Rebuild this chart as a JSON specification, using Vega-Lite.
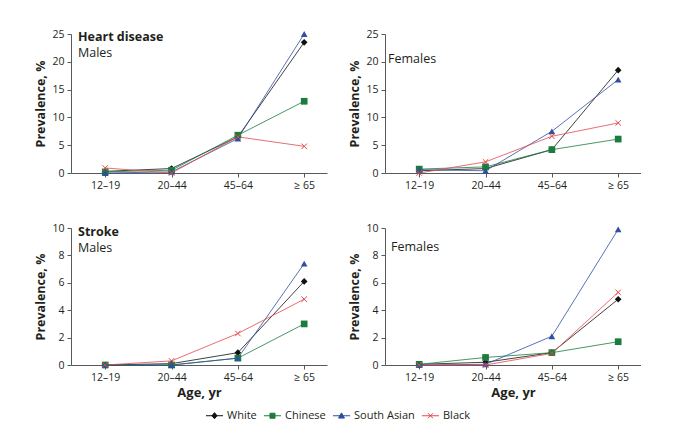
{
  "$schema": "https://vega.github.io/schema/vega-lite/v6.json",
  "padding": {"left": 34, "top": 29, "right": 0, "bottom": 0},
  "background": "white",
  "datasets": {
    "d": [
      {"panel": "HDM", "age": "12–19", "race": "White", "value": 0.3},
      {"panel": "HDM", "age": "20–44", "race": "White", "value": 0.8},
      {"panel": "HDM", "age": "45–64", "race": "White", "value": 6.5},
      {"panel": "HDM", "age": "≥ 65", "race": "White", "value": 23.5},
      {"panel": "HDM", "age": "12–19", "race": "Chinese", "value": 0.2},
      {"panel": "HDM", "age": "20–44", "race": "Chinese", "value": 0.5},
      {"panel": "HDM", "age": "45–64", "race": "Chinese", "value": 6.8},
      {"panel": "HDM", "age": "≥ 65", "race": "Chinese", "value": 12.9},
      {"panel": "HDM", "age": "12–19", "race": "South Asian", "value": 0.0},
      {"panel": "HDM", "age": "20–44", "race": "South Asian", "value": 0.2},
      {"panel": "HDM", "age": "45–64", "race": "South Asian", "value": 6.2},
      {"panel": "HDM", "age": "≥ 65", "race": "South Asian", "value": 25.0},
      {"panel": "HDM", "age": "12–19", "race": "Black", "value": 0.9},
      {"panel": "HDM", "age": "20–44", "race": "Black", "value": 0.0},
      {"panel": "HDM", "age": "45–64", "race": "Black", "value": 6.5},
      {"panel": "HDM", "age": "≥ 65", "race": "Black", "value": 4.8},

      {"panel": "HDF", "age": "12–19", "race": "White", "value": 0.4},
      {"panel": "HDF", "age": "20–44", "race": "White", "value": 0.8},
      {"panel": "HDF", "age": "45–64", "race": "White", "value": 4.2},
      {"panel": "HDF", "age": "≥ 65", "race": "White", "value": 18.5},
      {"panel": "HDF", "age": "12–19", "race": "Chinese", "value": 0.7},
      {"panel": "HDF", "age": "20–44", "race": "Chinese", "value": 1.1},
      {"panel": "HDF", "age": "45–64", "race": "Chinese", "value": 4.2},
      {"panel": "HDF", "age": "≥ 65", "race": "Chinese", "value": 6.1},
      {"panel": "HDF", "age": "12–19", "race": "South Asian", "value": 0.6},
      {"panel": "HDF", "age": "20–44", "race": "South Asian", "value": 0.4},
      {"panel": "HDF", "age": "45–64", "race": "South Asian", "value": 7.5},
      {"panel": "HDF", "age": "≥ 65", "race": "South Asian", "value": 16.8},
      {"panel": "HDF", "age": "12–19", "race": "Black", "value": 0.0},
      {"panel": "HDF", "age": "20–44", "race": "Black", "value": 2.0},
      {"panel": "HDF", "age": "45–64", "race": "Black", "value": 6.6},
      {"panel": "HDF", "age": "≥ 65", "race": "Black", "value": 9.0},

      {"panel": "SM", "age": "12–19", "race": "White", "value": 0.0},
      {"panel": "SM", "age": "20–44", "race": "White", "value": 0.1},
      {"panel": "SM", "age": "45–64", "race": "White", "value": 0.9},
      {"panel": "SM", "age": "≥ 65", "race": "White", "value": 6.1},
      {"panel": "SM", "age": "12–19", "race": "Chinese", "value": 0.0},
      {"panel": "SM", "age": "20–44", "race": "Chinese", "value": 0.0},
      {"panel": "SM", "age": "45–64", "race": "Chinese", "value": 0.5},
      {"panel": "SM", "age": "≥ 65", "race": "Chinese", "value": 3.0},
      {"panel": "SM", "age": "12–19", "race": "South Asian", "value": 0.0},
      {"panel": "SM", "age": "20–44", "race": "South Asian", "value": 0.0},
      {"panel": "SM", "age": "45–64", "race": "South Asian", "value": 0.5},
      {"panel": "SM", "age": "≥ 65", "race": "South Asian", "value": 7.4},
      {"panel": "SM", "age": "12–19", "race": "Black", "value": 0.0},
      {"panel": "SM", "age": "20–44", "race": "Black", "value": 0.3},
      {"panel": "SM", "age": "45–64", "race": "Black", "value": 2.3},
      {"panel": "SM", "age": "≥ 65", "race": "Black", "value": 4.8},

      {"panel": "SF", "age": "12–19", "race": "White", "value": 0.05},
      {"panel": "SF", "age": "20–44", "race": "White", "value": 0.2},
      {"panel": "SF", "age": "45–64", "race": "White", "value": 0.9},
      {"panel": "SF", "age": "≥ 65", "race": "White", "value": 4.8},
      {"panel": "SF", "age": "12–19", "race": "Chinese", "value": 0.05},
      {"panel": "SF", "age": "20–44", "race": "Chinese", "value": 0.55},
      {"panel": "SF", "age": "45–64", "race": "Chinese", "value": 0.9},
      {"panel": "SF", "age": "≥ 65", "race": "Chinese", "value": 1.7},
      {"panel": "SF", "age": "12–19", "race": "South Asian", "value": 0.0},
      {"panel": "SF", "age": "20–44", "race": "South Asian", "value": 0.05},
      {"panel": "SF", "age": "45–64", "race": "South Asian", "value": 2.1},
      {"panel": "SF", "age": "≥ 65", "race": "South Asian", "value": 9.9},
      {"panel": "SF", "age": "12–19", "race": "Black", "value": 0.0},
      {"panel": "SF", "age": "20–44", "race": "Black", "value": 0.0},
      {"panel": "SF", "age": "45–64", "race": "Black", "value": 0.85},
      {"panel": "SF", "age": "≥ 65", "race": "Black", "value": 5.3}
    ]
  },
  "data": {"name": "d"},
  "config": {
    "font": "Open Sans",
    "view": {"stroke": null},
    "axis": {
      "grid": false,
      "domainColor": "#58595b",
      "tickColor": "#58595b",
      "domainWidth": 1,
      "tickWidth": 1,
      "tickSize": 4,
      "labelFont": "Open Sans",
      "labelFontSize": 10.5,
      "labelColor": "#231f20",
      "labelPadding": 3,
      "titleFont": "Open Sans",
      "titleFontSize": 12.5,
      "titleFontWeight": "bold",
      "titleColor": "#231f20"
    },
    "title": {
      "anchor": "start",
      "frame": "group",
      "font": "Open Sans",
      "subtitleFont": "Open Sans",
      "fontSize": 12.5,
      "subtitleFontSize": 12.5,
      "color": "#231f20",
      "subtitleColor": "#231f20",
      "subtitlePadding": 3
    },
    "legend": {
      "labelFont": "Open Sans",
      "labelFontSize": 11,
      "labelColor": "#231f20",
      "layout": {"bottom": {"anchor": "middle"}}
    }
  },
  "spacing": 32,
  "vconcat": [
    {
      "spacing": 21,
      "hconcat": [
        {
          "width": 256,
          "height": 139,
          "title": {"text": "Heart disease", "subtitle": "Males", "fontWeight": "bold", "offset": -30, "dx": 7},
          "transform": [{"filter": "datum.panel === 'HDM'"}],
          "encoding": {
            "x": {"field": "age", "type": "ordinal", "sort": ["12–19", "20–44", "45–64", "≥ 65"], "scale": {"type": "point", "padding": 0.43, "align": 0.6}, "axis": {"title": null, "labelAngle": 0}},
            "y": {"field": "value", "type": "quantitative", "scale": {"domain": [0, 25]}, "axis": {"values": [0, 5, 10, 15, 20, 25], "title": "Prevalence, %"}}
          },
          "layer": [
            {"mark": {"type": "line", "strokeWidth": 0.8},
              "encoding": {"color": {"field": "race", "type": "nominal", "scale": {"domain": ["White", "Chinese", "South Asian", "Black"], "range": ["#111111", "#1b7c3d", "#2f4f9f", "#e5474d"]},
                "legend": {"title": null, "orient": "bottom", "offset": 6, "direction": "horizontal", "symbolSize": 324, "symbolStrokeWidth": 1, "labelOffset": 3, "columnPadding": 4,
                  "encode": {"symbols": {"update": {
                    "shape": {"signal": "datum.value === 'White' ? 'M-0.95,0H0.95M0,-0.34L0.28,0L0,0.34L-0.28,0Z' : datum.value === 'Chinese' ? 'M-0.95,0H0.95M-0.28,-0.28H0.28V0.28H-0.28Z' : datum.value === 'South Asian' ? 'M-0.95,0H0.95M0,-0.32L0.33,0.26H-0.33Z' : 'M-0.95,0H0.95M-0.28,-0.28L0.28,0.28M0.28,-0.28L-0.28,0.28'"},
                    "fill": {"signal": "datum.value === 'White' ? '#111111' : datum.value === 'Chinese' ? '#1b7c3d' : datum.value === 'South Asian' ? '#2f4f9f' : '#e5474d'"},
                    "stroke": {"signal": "datum.value === 'White' ? '#111111' : datum.value === 'Chinese' ? '#1b7c3d' : datum.value === 'South Asian' ? '#2f4f9f' : '#e5474d'"},
                    "opacity": {"value": 1}, "fillOpacity": {"value": 1}, "strokeOpacity": {"value": 1}
                  }}}}}}},
            {"transform": [{"filter": "datum.race === 'White'"}], "mark": {"type": "point", "shape": "diamond", "filled": true, "size": 45, "color": "#111111", "opacity": 1}},
            {"transform": [{"filter": "datum.race === 'Chinese'"}], "mark": {"type": "point", "shape": "square", "filled": true, "size": 45, "color": "#1b7c3d", "opacity": 1}},
            {"transform": [{"filter": "datum.race === 'South Asian'"}], "mark": {"type": "point", "shape": "triangle-up", "filled": true, "size": 45, "color": "#2f4f9f", "opacity": 1}},
            {"transform": [{"filter": "datum.race === 'Black'"}], "mark": {"type": "point", "shape": "M-1,-1L1,1M1,-1L-1,1", "filled": false, "size": 30, "color": "#e5474d", "strokeWidth": 1, "opacity": 1}}
          ]
        },
        {
          "width": 256,
          "height": 139,
          "title": {"text": "Females", "fontWeight": "normal", "offset": -36, "dx": 3},
          "transform": [{"filter": "datum.panel === 'HDF'"}],
          "encoding": {
            "x": {"field": "age", "type": "ordinal", "sort": ["12–19", "20–44", "45–64", "≥ 65"], "scale": {"type": "point", "padding": 0.43, "align": 0.6}, "axis": {"title": null, "labelAngle": 0}},
            "y": {"field": "value", "type": "quantitative", "scale": {"domain": [0, 25]}, "axis": {"values": [0, 5, 10, 15, 20, 25], "title": "Prevalence, %"}}
          },
          "layer": [
            {"mark": {"type": "line", "strokeWidth": 0.8},
              "encoding": {"color": {"field": "race", "type": "nominal", "scale": {"domain": ["White", "Chinese", "South Asian", "Black"], "range": ["#111111", "#1b7c3d", "#2f4f9f", "#e5474d"]},
                "legend": {"title": null, "orient": "bottom", "offset": 6, "direction": "horizontal", "symbolSize": 324, "symbolStrokeWidth": 1, "labelOffset": 3, "columnPadding": 4,
                  "encode": {"symbols": {"update": {
                    "shape": {"signal": "datum.value === 'White' ? 'M-0.95,0H0.95M0,-0.34L0.28,0L0,0.34L-0.28,0Z' : datum.value === 'Chinese' ? 'M-0.95,0H0.95M-0.28,-0.28H0.28V0.28H-0.28Z' : datum.value === 'South Asian' ? 'M-0.95,0H0.95M0,-0.32L0.33,0.26H-0.33Z' : 'M-0.95,0H0.95M-0.28,-0.28L0.28,0.28M0.28,-0.28L-0.28,0.28'"},
                    "fill": {"signal": "datum.value === 'White' ? '#111111' : datum.value === 'Chinese' ? '#1b7c3d' : datum.value === 'South Asian' ? '#2f4f9f' : '#e5474d'"},
                    "stroke": {"signal": "datum.value === 'White' ? '#111111' : datum.value === 'Chinese' ? '#1b7c3d' : datum.value === 'South Asian' ? '#2f4f9f' : '#e5474d'"},
                    "opacity": {"value": 1}, "fillOpacity": {"value": 1}, "strokeOpacity": {"value": 1}
                  }}}}}}},
            {"transform": [{"filter": "datum.race === 'White'"}], "mark": {"type": "point", "shape": "diamond", "filled": true, "size": 45, "color": "#111111", "opacity": 1}},
            {"transform": [{"filter": "datum.race === 'Chinese'"}], "mark": {"type": "point", "shape": "square", "filled": true, "size": 45, "color": "#1b7c3d", "opacity": 1}},
            {"transform": [{"filter": "datum.race === 'South Asian'"}], "mark": {"type": "point", "shape": "triangle-up", "filled": true, "size": 45, "color": "#2f4f9f", "opacity": 1}},
            {"transform": [{"filter": "datum.race === 'Black'"}], "mark": {"type": "point", "shape": "M-1,-1L1,1M1,-1L-1,1", "filled": false, "size": 30, "color": "#e5474d", "strokeWidth": 1, "opacity": 1}}
          ]
        }
      ]
    },
    {
      "spacing": 21,
      "hconcat": [
        {
          "width": 256,
          "height": 137,
          "title": {"text": "Stroke", "subtitle": "Males", "fontWeight": "bold", "offset": -31, "dx": 7},
          "transform": [{"filter": "datum.panel === 'SM'"}],
          "encoding": {
            "x": {"field": "age", "type": "ordinal", "sort": ["12–19", "20–44", "45–64", "≥ 65"], "scale": {"type": "point", "padding": 0.43, "align": 0.6}, "axis": {"title": "Age, yr", "labelAngle": 0, "titleFontSize": 13, "titlePadding": 4}},
            "y": {"field": "value", "type": "quantitative", "scale": {"domain": [0, 10]}, "axis": {"values": [0, 2, 4, 6, 8, 10], "title": "Prevalence, %"}}
          },
          "layer": [
            {"mark": {"type": "line", "strokeWidth": 0.8},
              "encoding": {"color": {"field": "race", "type": "nominal", "scale": {"domain": ["White", "Chinese", "South Asian", "Black"], "range": ["#111111", "#1b7c3d", "#2f4f9f", "#e5474d"]},
                "legend": {"title": null, "orient": "bottom", "offset": 6, "direction": "horizontal", "symbolSize": 324, "symbolStrokeWidth": 1, "labelOffset": 3, "columnPadding": 4,
                  "encode": {"symbols": {"update": {
                    "shape": {"signal": "datum.value === 'White' ? 'M-0.95,0H0.95M0,-0.34L0.28,0L0,0.34L-0.28,0Z' : datum.value === 'Chinese' ? 'M-0.95,0H0.95M-0.28,-0.28H0.28V0.28H-0.28Z' : datum.value === 'South Asian' ? 'M-0.95,0H0.95M0,-0.32L0.33,0.26H-0.33Z' : 'M-0.95,0H0.95M-0.28,-0.28L0.28,0.28M0.28,-0.28L-0.28,0.28'"},
                    "fill": {"signal": "datum.value === 'White' ? '#111111' : datum.value === 'Chinese' ? '#1b7c3d' : datum.value === 'South Asian' ? '#2f4f9f' : '#e5474d'"},
                    "stroke": {"signal": "datum.value === 'White' ? '#111111' : datum.value === 'Chinese' ? '#1b7c3d' : datum.value === 'South Asian' ? '#2f4f9f' : '#e5474d'"},
                    "opacity": {"value": 1}, "fillOpacity": {"value": 1}, "strokeOpacity": {"value": 1}
                  }}}}}}},
            {"transform": [{"filter": "datum.race === 'White'"}], "mark": {"type": "point", "shape": "diamond", "filled": true, "size": 45, "color": "#111111", "opacity": 1}},
            {"transform": [{"filter": "datum.race === 'Chinese'"}], "mark": {"type": "point", "shape": "square", "filled": true, "size": 45, "color": "#1b7c3d", "opacity": 1}},
            {"transform": [{"filter": "datum.race === 'South Asian'"}], "mark": {"type": "point", "shape": "triangle-up", "filled": true, "size": 45, "color": "#2f4f9f", "opacity": 1}},
            {"transform": [{"filter": "datum.race === 'Black'"}], "mark": {"type": "point", "shape": "M-1,-1L1,1M1,-1L-1,1", "filled": false, "size": 30, "color": "#e5474d", "strokeWidth": 1, "opacity": 1}}
          ]
        },
        {
          "width": 256,
          "height": 137,
          "title": {"text": "Females", "fontWeight": "normal", "offset": -30, "dx": 6},
          "transform": [{"filter": "datum.panel === 'SF'"}],
          "encoding": {
            "x": {"field": "age", "type": "ordinal", "sort": ["12–19", "20–44", "45–64", "≥ 65"], "scale": {"type": "point", "padding": 0.43, "align": 0.6}, "axis": {"title": "Age, yr", "labelAngle": 0, "titleFontSize": 13, "titlePadding": 4}},
            "y": {"field": "value", "type": "quantitative", "scale": {"domain": [0, 10]}, "axis": {"values": [0, 2, 4, 6, 8, 10], "title": "Prevalence, %"}}
          },
          "layer": [
            {"mark": {"type": "line", "strokeWidth": 0.8},
              "encoding": {"color": {"field": "race", "type": "nominal", "scale": {"domain": ["White", "Chinese", "South Asian", "Black"], "range": ["#111111", "#1b7c3d", "#2f4f9f", "#e5474d"]},
                "legend": {"title": null, "orient": "bottom", "offset": 6, "direction": "horizontal", "symbolSize": 324, "symbolStrokeWidth": 1, "labelOffset": 3, "columnPadding": 4,
                  "encode": {"symbols": {"update": {
                    "shape": {"signal": "datum.value === 'White' ? 'M-0.95,0H0.95M0,-0.34L0.28,0L0,0.34L-0.28,0Z' : datum.value === 'Chinese' ? 'M-0.95,0H0.95M-0.28,-0.28H0.28V0.28H-0.28Z' : datum.value === 'South Asian' ? 'M-0.95,0H0.95M0,-0.32L0.33,0.26H-0.33Z' : 'M-0.95,0H0.95M-0.28,-0.28L0.28,0.28M0.28,-0.28L-0.28,0.28'"},
                    "fill": {"signal": "datum.value === 'White' ? '#111111' : datum.value === 'Chinese' ? '#1b7c3d' : datum.value === 'South Asian' ? '#2f4f9f' : '#e5474d'"},
                    "stroke": {"signal": "datum.value === 'White' ? '#111111' : datum.value === 'Chinese' ? '#1b7c3d' : datum.value === 'South Asian' ? '#2f4f9f' : '#e5474d'"},
                    "opacity": {"value": 1}, "fillOpacity": {"value": 1}, "strokeOpacity": {"value": 1}
                  }}}}}}},
            {"transform": [{"filter": "datum.race === 'White'"}], "mark": {"type": "point", "shape": "diamond", "filled": true, "size": 45, "color": "#111111", "opacity": 1}},
            {"transform": [{"filter": "datum.race === 'Chinese'"}], "mark": {"type": "point", "shape": "square", "filled": true, "size": 45, "color": "#1b7c3d", "opacity": 1}},
            {"transform": [{"filter": "datum.race === 'South Asian'"}], "mark": {"type": "point", "shape": "triangle-up", "filled": true, "size": 45, "color": "#2f4f9f", "opacity": 1}},
            {"transform": [{"filter": "datum.race === 'Black'"}], "mark": {"type": "point", "shape": "M-1,-1L1,1M1,-1L-1,1", "filled": false, "size": 30, "color": "#e5474d", "strokeWidth": 1, "opacity": 1}}
          ]
        }
      ]
    }
  ]
}
